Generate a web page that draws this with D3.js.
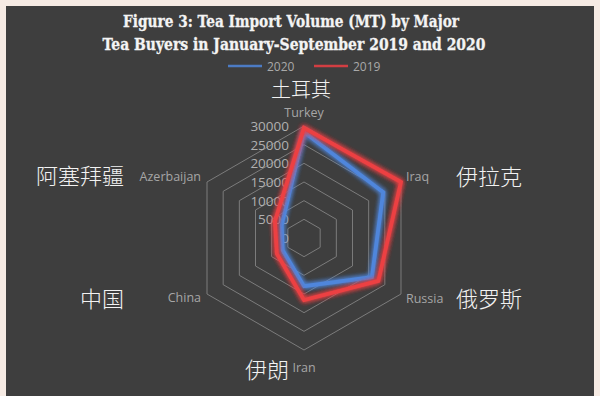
<!DOCTYPE html>
<html><head><meta charset="utf-8">
<script src="https://cdn.jsdelivr.net/npm/d3@7"></script>
<style>
html,body{margin:0;padding:0;background:#f6ebe4;}
svg{display:block;}
</style></head>
<body>
<svg id="chart" width="600" height="396"></svg>
<script>
const categories = ["Turkey","Iraq","Russia","Iran","China","Azerbaijan"];
const categoriesZh = ["土耳其","伊拉克","俄罗斯","伊朗","中国","阿塞拜疆"];
const seriesNames = ["2020","2019"];
const values2020 = [28400, 24500, 21000, 12900, 6600, 6900];
const values2019 = [29500, 30000, 23000, 16600, 8400, 9000];
const tickValues = [0, 5000, 10000, 15000, 20000, 25000, 30000];
const titleLines = ["Figure 3: Tea Import Volume (MT) by Major", "Tea Buyers in January-September 2019 and 2020"];

const svg = d3.select("#chart");
const W = 600, H = 396;
svg.append("rect").attr("x",0).attr("y",0).attr("width",W).attr("height",H).attr("fill","#f6ebe4");
svg.append("rect").attr("x",6).attr("y",6).attr("width",588).attr("height",H-6).attr("fill","#3e3e3e");

const defs = svg.append("defs");
const glow = defs.append("filter").attr("id","glow").attr("x","-20%").attr("y","-20%").attr("width","140%").attr("height","140%");
glow.append("feGaussianBlur").attr("in","SourceGraphic").attr("stdDeviation",2.8).attr("result","b");
const m = glow.append("feMerge");
m.append("feMergeNode").attr("in","b");
m.append("feMergeNode").attr("in","b");
m.append("feMergeNode").attr("in","SourceGraphic");

// title
svg.selectAll("text.title").data(titleLines).join("text")
  .attr("x", (d,i)=> i===0 ? 291 : 294)
  .attr("y", (d,i)=> 27 + i*23)
  .attr("text-anchor","middle")
  .attr("font-family","'DejaVu Serif', serif")
  .attr("font-weight","bold")
  .attr("font-size",17)
  .attr("fill","#f4f4f4")
  .attr("stroke","#f4f4f4").attr("stroke-width",0.3)
  .attr("textLength",(d,i)=> i===0 ? 336 : 383)
  .attr("lengthAdjust","spacingAndGlyphs")
  .text(d=>d);

const cx = 304, cy = 238;
const r = d3.scaleLinear().domain([0, 30000]).range([0, 112]);
const angle = d3.scalePoint().domain(categories).range([0, 2*Math.PI*(categories.length-1)/categories.length]);

const radial = d3.lineRadial()
  .angle(d => angle(d.c))
  .radius(d => r(d.v))
  .curve(d3.curveLinearClosed);

const g = svg.append("g").attr("transform",`translate(${cx},${cy})`);

// grid hexagons
g.selectAll("path.grid").data(tickValues.filter(v=>v>0)).join("path")
  .attr("d", v => radial(categories.map(c=>({c, v}))))
  .attr("fill","none").attr("stroke","#7c7c7c").attr("stroke-width",1);

// tick labels
g.selectAll("text.tick").data(tickValues).join("text")
  .attr("x",-15).attr("y", v => -r(v))
  .attr("text-anchor","end").attr("dominant-baseline","central")
  .attr("font-family","'Open Sans', sans-serif").attr("font-size",13.5)
  .attr("fill","#b0b0b0")
  .text(v=>v);

// series
const series = [
  {name: seriesNames[0], values: values2020, color:"#4f86dc"},
  {name: seriesNames[1], values: values2019, color:"#ec3f43"}
];
g.selectAll("path.series").data(series).join("path")
  .attr("d", s => radial(categories.map((c,i)=>({c, v:s.values[i]}))))
  .attr("fill","none").attr("stroke", s=>s.color).attr("stroke-width",3.8)
  .attr("stroke-linejoin","miter")
  .attr("filter","url(#glow)");

// category labels
const pt = (c, rad) => {
  const a = angle(c);
  return [rad*Math.sin(a), -rad*Math.cos(a)];
};
const enLabel = {
  "Turkey": {dx:0, dy:-14, anchor:"middle"},
  "Iraq": {dx:5, dy:-6, anchor:"start"},
  "Russia": {dx:5, dy:4, anchor:"start"},
  "Iran": {dx:0, dy:17, anchor:"middle"},
  "China": {dx:-6, dy:3, anchor:"end"},
  "Azerbaijan": {dx:-6, dy:-6, anchor:"end"}
};
g.selectAll("text.cat").data(categories).join("text")
  .attr("x", c => pt(c, r(30000))[0] + enLabel[c].dx)
  .attr("y", c => pt(c, r(30000))[1] + enLabel[c].dy)
  .attr("text-anchor", c => enLabel[c].anchor)
  .attr("dominant-baseline","central")
  .attr("font-family","'Open Sans', sans-serif").attr("font-size",12.5)
  .attr("fill","#a6a6a6")
  .text(c=>c);

const zhPos = [[301,88],[489,175],[489,297],[267,368],[102,297],[80,174]];
svg.selectAll("text.zh").data(categoriesZh).join("text")
  .attr("x",(d,i)=>zhPos[i][0]).attr("y",(d,i)=>zhPos[i][1])
  .attr("text-anchor","middle").attr("dominant-baseline","central")
  .attr("font-family","'Noto Sans CJK SC', sans-serif")
  .attr("font-size",(d,i)=> i===0 ? 20 : 22)
  .attr("font-weight",300)
  .attr("fill","#f2f2f2")
  .text(d=>d);

// legend
const leg = svg.append("g");
const legX = [228, 314];
series.forEach((s,i)=>{
  leg.append("line").attr("x1",legX[i]).attr("x2",legX[i]+34).attr("y1",66).attr("y2",66)
    .attr("stroke",s.color).attr("stroke-width",2.5).attr("opacity",0.85);
  leg.append("text").attr("x",legX[i]+39).attr("y",66).attr("dominant-baseline","central")
    .attr("font-family","'Open Sans', sans-serif").attr("font-size",12).attr("fill","#a9a9a9")
    .text(s.name);
});
</script>
</body></html>
